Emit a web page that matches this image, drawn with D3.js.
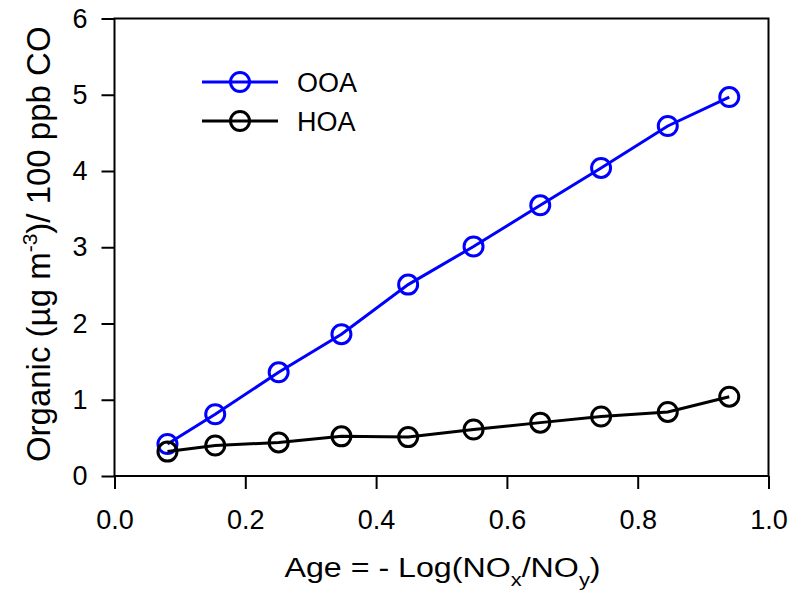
<!DOCTYPE html>
<html>
<head>
<meta charset="utf-8">
<script src="https://cdn.jsdelivr.net/npm/d3@7"></script>
<style>
  body { margin: 0; background: #fff; }
  text { font-family: 'Liberation Sans', Arial, sans-serif; }
</style>
</head>
<body>
<div id="chart"></div>
<script>
var age    = [0.081, 0.154, 0.251, 0.347, 0.449, 0.549, 0.651, 0.744, 0.846, 0.940]
var ooa    = [0.42, 0.81, 1.36, 1.86, 2.51, 3.01, 3.55, 4.04, 4.59, 4.97]
var hoa    = [0.32, 0.40, 0.44, 0.52, 0.51, 0.61, 0.70, 0.78, 0.84, 1.04]
var xTicks = [0.0, 0.2, 0.4, 0.6, 0.8, 1.0]
var yTicks = [0, 1, 2, 3, 4, 5, 6]
var seriesNames  = ['OOA', 'HOA']
var seriesColors = ['#0000ff', '#000000']

function buildChart() {
  var margin = {top: 18.5, right: 33.5, bottom: 119, left: 114.5}
  var width = 802 - margin.left - margin.right
  var height = 595 - margin.top - margin.bottom

  var svg = d3.select('#chart')
    .append('svg')
      .attr('width', 802)
      .attr('height', 595)
    .append('g')
      .attr('transform', 'translate(' + margin.left + ',' + margin.top + ')')

  var x = d3.scaleLinear().domain([0, 1]).range([0, width])
  var y = d3.scaleLinear().domain([0, 6]).range([height, 0])

  // x axis
  var xAxis = svg.append('g')
    .attr('transform', 'translate(0,' + height + ')')
    .call(d3.axisBottom(x).tickValues(xTicks).tickFormat(d3.format('.1f')).tickSize(13).tickPadding(21))
  // y axis
  var yAxis = svg.append('g')
    .call(d3.axisLeft(y).tickValues(yTicks).tickFormat(d3.format('d')).tickSize(13).tickPadding(14))

  ;[xAxis, yAxis].forEach(function(a) {
    a.select('.domain').remove()
    a.selectAll('line').attr('stroke', '#000').attr('stroke-width', 2)
    a.selectAll('text').attr('font-size', 27).attr('fill', '#000')
      .style('font-family', "'Liberation Sans', Arial, sans-serif")
  })

  // frame
  svg.append('rect')
    .attr('width', width).attr('height', height)
    .attr('fill', 'none').attr('stroke', '#000').attr('stroke-width', 2)

  var allSeries = [ooa, hoa]
  var line = d3.line().x(function(d) { return x(d[0]) }).y(function(d) { return y(d[1]) })

  for (var i = 0; i < allSeries.length; ++i) {
    var pts = age.map(function(a, j) { return [a, allSeries[i][j]] })
    svg.append('path')
      .datum(pts)
      .attr('fill', 'none')
      .attr('stroke', seriesColors[i])
      .attr('stroke-width', 3)
      .attr('d', line)
    svg.selectAll('.m' + i)
      .data(pts)
      .enter().append('circle')
        .attr('class', 'm' + i)
        .attr('cx', function(d) { return x(d[0]) })
        .attr('cy', function(d) { return y(d[1]) })
        .attr('r', 9.5)
        .attr('fill', 'none')
        .attr('stroke', seriesColors[i])
        .attr('stroke-width', 3)
  }

  // legend
  var legend = svg.append('g').attr('transform', 'translate(' + (202 - margin.left) + ',' + (82 - margin.top) + ')')
  seriesNames.forEach(function(name, i) {
    var g = legend.append('g').attr('transform', 'translate(0,' + (i * 39) + ')')
    g.append('line').attr('x1', 0).attr('x2', 76).attr('stroke', seriesColors[i]).attr('stroke-width', 3)
    g.append('circle').attr('cx', 38).attr('r', 9.5).attr('fill', 'none').attr('stroke', seriesColors[i]).attr('stroke-width', 3)
    g.append('text').attr('x', 95).attr('y', 10).attr('font-size', 27).attr('fill', '#000').text(name)
  })

  // axis titles
  var xt = svg.append('text')
    .attr('transform', 'translate(' + (width / 2 + 1) + ',' + (577 - margin.top) + ') scale(1.15,1)')
    .attr('text-anchor', 'middle').attr('font-size', 28)
  xt.append('tspan').text('Age = - Log(NO')
  xt.append('tspan').attr('font-size', 19).attr('dy', 9).text('x')
  xt.append('tspan').attr('dy', -9).text('/NO')
  xt.append('tspan').attr('font-size', 19).attr('dy', 9).text('y')
  xt.append('tspan').attr('dy', -9).text(')')

  var yt = svg.append('text')
    .attr('transform', 'translate(' + (50 - margin.left) + ',' + (height / 2 - 3) + ') rotate(-90)')
    .attr('text-anchor', 'middle').attr('font-size', 33)
  yt.append('tspan').text('Organic (\u00b5g m')
  yt.append('tspan').attr('font-size', 21).attr('dy', -13).text('-3')
  yt.append('tspan').attr('dy', 13).text(')/ 100 ppb CO')
}

buildChart()
</script>
</body>
</html>
